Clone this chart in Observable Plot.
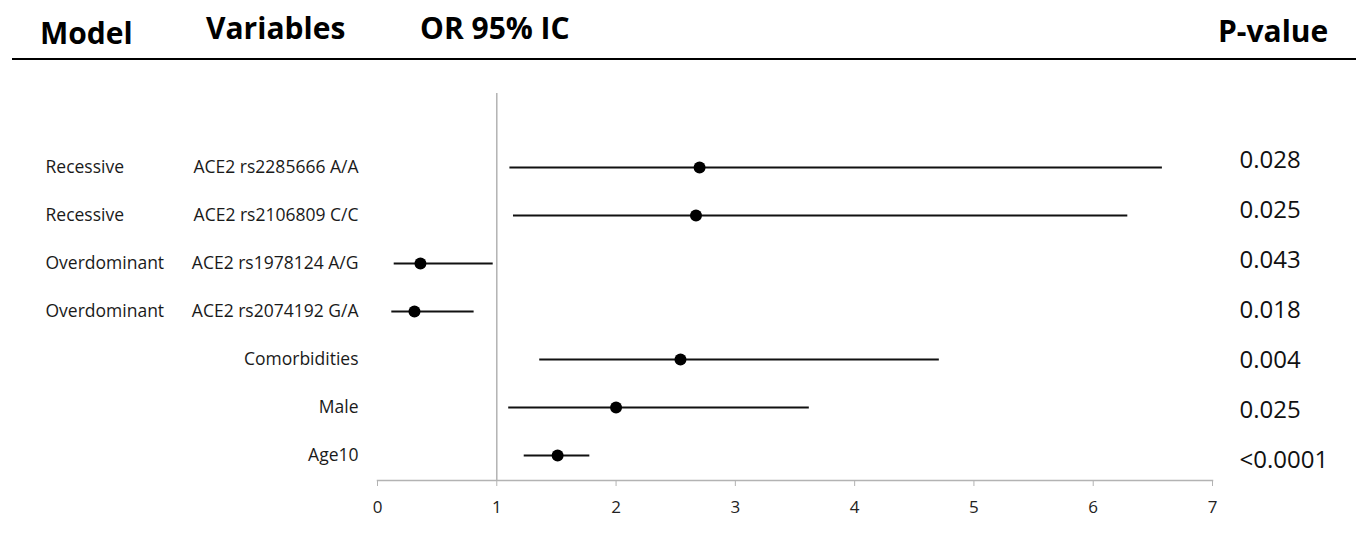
<!DOCTYPE html>
<html>
<head>
<meta charset="utf-8">
<script src="https://cdn.jsdelivr.net/npm/d3@7"></script>
<script src="https://cdn.jsdelivr.net/npm/@observablehq/plot@0.6"></script>
<style>
  html, body { margin: 0; padding: 0; background: #fff; overflow: hidden; }
  #wrap { position: relative; width: 1356px; height: 534px; font-family: "Open Sans", sans-serif; }
  #header { position: relative; width: 1356px; height: 60px; }
  #header span { position: absolute; font-weight: 700; font-size: 30px; line-height: 30px; color: #000; white-space: nowrap; }
  #rule { position: absolute; left: 12px; right: 0; top: 58px; height: 2px; background: #000; }
  #main { position: absolute; left: 0; top: 60px; }
  #pcol { position: absolute; left: 0; top: 60px; pointer-events: none; }
  svg { display: block; }
  #main svg g[aria-label="x-axis tick label"], #main svg g[aria-label="x-axis tick label"] text { font-size: 17px !important; }
</style>
</head>
<body>
<div id="wrap">
  <div id="header"></div>
  <div id="main"></div>
  <div id="pcol"></div>
</div>
<script>
// ---- data ----
const headers = ["Model", "Variables", "OR 95% IC", "P-value"];
const models = ["Recessive", "Recessive", "Overdominant", "Overdominant", "", "", ""];
const variables = ["ACE2 rs2285666 A/A", "ACE2 rs2106809 C/C", "ACE2 rs1978124 A/G", "ACE2 rs2074192 G/A", "Comorbidities", "Male", "Age10"];
const oddsRatio = [2.70, 2.67, 0.36, 0.31, 2.54, 2.00, 1.51];
const ciLower = [1.11, 1.14, 0.14, 0.12, 1.36, 1.10, 1.23];
const ciUpper = [6.58, 6.29, 0.97, 0.81, 4.71, 3.62, 1.78];
const pValues = ["0.028", "0.025", "0.043", "0.018", "0.004", "0.025", "<0.0001"];
const xTicks = [0, 1, 2, 3, 4, 5, 6, 7];

const rows = variables.map((v, i) => ({
  model: models[i], variable: v, or: oddsRatio[i], lo: ciLower[i], hi: ciUpper[i], p: pValues[i]
}));

// ---- header (HTML above the plot) ----
const headerLeft = [40, 206, 420, 1218];
const headerTop = [17.5, 12.5, 12.5, 15.5];
const header = document.getElementById("header");
headers.forEach((h, i) => {
  const s = document.createElement("span");
  s.textContent = h;
  s.style.left = headerLeft[i] + "px";
  s.style.top = headerTop[i] + "px";
  header.appendChild(s);
});
const rule = document.createElement("div");
rule.id = "rule";
header.appendChild(rule);

const W = 1356, H = 474;
const grey = "#b3b3b3";
const ink = "#111";

// ---- main forest plot ----
const main = Plot.plot({
  width: W,
  height: H,
  marginLeft: 377,
  marginRight: 144,
  marginTop: 33,
  marginBottom: 54,
  style: { fontFamily: "Open Sans, sans-serif", color: ink, background: "#fff", overflow: "visible" },
  x: { domain: [0, 7] },
  y: { type: "point", domain: variables, range: [106, 396], padding: 0 },
  marks: [
    Plot.ruleX([1], { stroke: grey, strokeWidth: 1.5 }),
    Plot.frame({ anchor: "bottom", stroke: grey, strokeWidth: 1.5 }),
    Plot.axisX({ ticks: xTicks, tickFormat: d => String(d), tickSize: 6, tickPadding: 14, stroke: grey, fontSize: 17, fill: "#222", label: null }),
    Plot.axisY({ tickSize: 0, tickPadding: 19, fontSize: 17.5, fill: "#1a1a1a", label: null }),
    Plot.text(rows, { y: "variable", text: "model", frameAnchor: "left", textAnchor: "start", dx: -332, fontSize: 17.5, fill: "#1a1a1a" }),
    Plot.ruleY(rows, { y: "variable", x1: "lo", x2: "hi", stroke: ink, strokeWidth: 2 }),
    Plot.dot(rows, { x: "or", y: "variable", r: 6, fill: "#000", stroke: "none" })
  ]
});
document.getElementById("main").appendChild(main);

// ---- p-value column (own vertical spacing, overlaid) ----
const pcol = Plot.plot({
  width: W,
  height: H,
  marginLeft: 377,
  marginRight: 144,
  marginTop: 33,
  marginBottom: 54,
  style: { fontFamily: "Open Sans, sans-serif", color: ink, background: "transparent", overflow: "visible" },
  x: { domain: [0, 7], axis: null },
  y: { type: "point", domain: variables, range: [98, 402], padding: 0, axis: null },
  marks: [
    Plot.text(rows, { y: "variable", text: "p", frameAnchor: "right", textAnchor: "start", dx: 27, fontSize: 24, fill: "#111" })
  ]
});
document.getElementById("pcol").appendChild(pcol);
</script>
</body>
</html>
